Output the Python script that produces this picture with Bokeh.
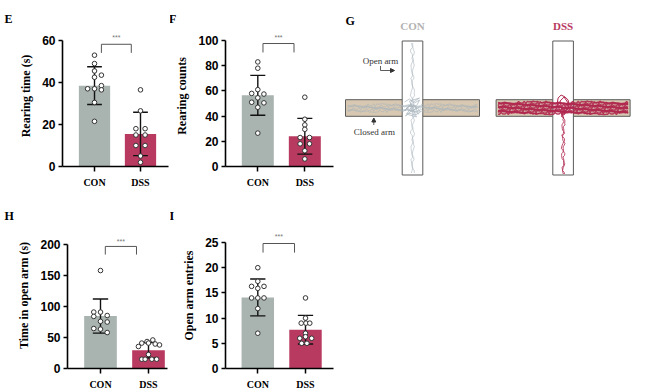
import numpy as np
from bokeh.plotting import figure
from bokeh.layouts import row, column
from bokeh.models import Range1d, FixedTicker, Title, Arrow, NormalHead
from bokeh.embed import file_html
from bokeh.resources import INLINE
from bokeh.core.properties import value

groups = ["CON", "DSS"]
group_x = [1, 2]
bar_colors = ["#a9b3b0", "#b83a61"]

# ---- Panel E: Rearing time (s)
e_means = [38.5, 15.5]
e_sds = [9.0, 10.3]
e_con = [53, 49, 45.5, 43.5, 42.5, 38.5, 37, 37, 36.5, 30.5, 21.5]
e_con_dx = [0, 0, 0, 0.15, 0, 0.15, -0.15, 0, 0.15, 0, 0]
e_dss = [36.5, 26.5, 18, 18, 15, 15, 10, 10, 5, 2]
e_dss_dx = [0, 0, -0.1, 0.1, -0.1, 0.1, -0.1, 0.1, 0, 0]
e_yticks = [0, 20, 40, 60]
e_bracket_x = [1.15, 1.80]
e_bracket_y = [54.1, 58.2, 61.6]

# ---- Panel F: Rearing counts
f_means = [56.5, 24.0]
f_sds = [15.8, 14.2]
f_con = [83, 78, 61, 58, 57.5, 54.5, 51, 50.5, 47, 26.5]
f_con_dx = [0, 0, 0, -0.13, 0.13, 0, -0.13, 0.13, 0, 0]
f_dss = [55, 37.5, 33, 29.5, 23, 23, 18, 18, 12.5, 6]
f_dss_dx = [0, 0, 0, 0, -0.1, 0.1, -0.1, 0.1, 0, 0]
f_yticks = [0, 20, 40, 60, 80, 100]
f_bracket_x = [1.11, 1.77]
f_bracket_y = [90.5, 97.6, 102.6]

# ---- Panel H: Time in open arm (s)
h_means = [84.5, 29.5]
h_sds = [27.5, 12.5]
h_con = [158, 91, 91, 85.5, 84, 76, 75, 64.5, 63.5, 58]
h_con_dx = [0, -0.14, 0, 0.14, -0.14, 0, 0.14, -0.14, 0, 0.14]
h_dss = [46, 43.5, 41, 41, 39.5, 38, 35.5, 22.5, 15, 15, 15, 15]
h_dss_dx = [0.09, -0.03, -0.14, 0, 0.14, 0.23, -0.21, 0, -0.14, -0.07, 0.07, 0.17]
h_yticks = [0, 50, 100, 150, 200]
h_bracket_x = [1.10, 1.75]
h_bracket_y = [183.8, 196.9, 205.0]

# ---- Panel I: Open arm entries
i_means = [14.1, 7.7]
i_sds = [3.65, 2.85]
i_con = [20, 17.3, 16.3, 16.3, 15.9, 14, 14, 14, 11.9, 7]
i_con_dx = [0, 0, -0.13, 0.13, 0, -0.13, 0, 0.13, 0, 0]
i_dss = [14, 10, 9, 9, 9, 7, 6.3, 6, 6, 5, 5]
i_dss_dx = [0, 0, -0.09, 0.01, 0.09, 0, 0, -0.12, 0.13, -0.08, 0.03]
i_yticks = [0, 5, 10, 15, 20, 25]
i_bracket_x = [1.11, 1.77]
i_bracket_y = [23.0, 24.8, 26.2]

# ---- Panel G: elevated plus maze, hand-traced track texture
maze_centers_x = [77.0, 227.6]
maze_center_y = 107.5
arm_half_len = 67.0
open_half_w = 10.3
closed_half_w = 8.3
track_wiggle = [0.0, 0.8, -0.5, 1.3, -1.0, 0.2, -0.9, 1.1, 0.4, -1.4, 0.9, -0.2,
                1.2, -0.8, 0.5, -1.2, 0.1, 1.0, -0.6, 0.7, -1.3, 0.3, 1.4, -0.4,
                -1.0, 0.6, 1.1, -0.7, 0.0, -1.1, 0.9, 0.4, -0.3, 1.2, -0.9, 0.2, -0.5]
con_band_bases = [-3.0, -1.8, -0.6, 0.6, 1.8, 3.0]
dss_band_bases = [-5.6, -4.6, -3.6, -2.6, -1.6, -0.6, 0.4, 1.4, 2.4, 3.4, 4.4, 5.4]
con_cluster_x = [-8, -3, 2, 7, 4, -2, -6, -1, 5, 8, 3, -4, -7, 0, 6, 2, -5, -8, 1, 7, -3, 4, -6, 0]
con_cluster_y = [-6, -9, -5, -8, -2, -4, 1, 3, 0, 4, 7, 5, 8, 2, 6, -3, -1, 3, -6, -10, -7, 9, 6, -2]
dss_loop_x = [0, 4, 6, 5, 2, -2, -5, -6, -4, 0, 3, 5, 1, -3, -1, 2, -2, 1]
dss_loop_y = [4, 2, -3, -8, -11, -13, -10, -4, 1, 5, 2, -5, -11, -7, 3, 6, 8, 10]

SERIF = "Liberation Serif"
SANS = "Liberation Sans"


def bar_panel(w, h, bl, br, bt, bb, xr, ytop, yticks, ylabel, means, sds,
              con, con_dx, dss, dss_dx, bx, by, letter, loff):
    p = figure(width=w, height=h, x_range=Range1d(*xr), y_range=Range1d(0, ytop),
               output_backend="svg", toolbar_location=None,
               min_border_left=bl, min_border_right=br,
               min_border_top=bt, min_border_bottom=bb)
    p.title = Title(text=letter, align="left", offset=loff, standoff=0,
                    vertical_align="bottom", text_font=SERIF, text_font_style="bold",
                    text_font_size="12px", text_color="black")
    p.outline_line_color = None
    p.xgrid.visible = False
    p.ygrid.visible = False
    p.vbar(x=group_x, top=means, bottom=0, width=0.68,
           fill_color=bar_colors, line_color=None)
    lo = [m - s for m, s in zip(means, sds)]
    hi = [m + s for m, s in zip(means, sds)]
    p.segment(x0=group_x, y0=lo, x1=group_x, y1=hi, line_color="#111111", line_width=1.4)
    cap = 0.16
    p.segment(x0=[g - cap for g in group_x] * 2, y0=lo + hi,
              x1=[g + cap for g in group_x] * 2, y1=lo + hi,
              line_color="#111111", line_width=1.4)
    p.scatter(x=[1 + d for d in con_dx], y=con, size=4.6, marker="circle",
              fill_color="white", line_color="#333333", line_width=1.0)
    p.scatter(x=[2 + d for d in dss_dx], y=dss, size=4.6, marker="circle",
              fill_color="white", line_color="#333333", line_width=1.0)
    p.line(x=[bx[0], bx[0], bx[1], bx[1]], y=[by[0], by[1], by[1], by[0]],
           line_color="#555555", line_width=1)
    p.text(x=[(bx[0] + bx[1]) / 2], y=[by[2]], text=["***"],
           text_font=value(SANS), text_font_size="7px", text_color="#777777",
           text_align="center", text_baseline="middle")

    p.xaxis.ticker = FixedTicker(ticks=group_x)
    p.xaxis.major_label_overrides = {1: groups[0], 2: groups[1]}
    p.yaxis.ticker = FixedTicker(ticks=yticks)
    p.yaxis.bounds = (0, yticks[-1])
    for ax in (p.xaxis, p.yaxis):
        ax.axis_line_width = 1.6
        ax.axis_line_color = "black"
        ax.major_tick_line_width = 1.5
        ax.major_tick_line_color = "black"
        ax.major_tick_in = 0
        ax.minor_tick_line_color = None
    p.xaxis.major_tick_out = 5
    p.xaxis.major_label_standoff = 5
    p.xaxis.major_label_text_font = SERIF
    p.xaxis.major_label_text_font_style = "bold"
    p.xaxis.major_label_text_font_size = "10px"
    p.xaxis.major_label_text_color = "black"
    p.yaxis.major_tick_out = 4
    p.yaxis.major_label_standoff = 3
    p.yaxis.major_label_text_font = SANS
    p.yaxis.major_label_text_font_style = "bold"
    p.yaxis.major_label_text_font_size = "12px"
    p.yaxis.major_label_text_color = "black"
    p.yaxis.axis_label = ylabel
    p.yaxis.axis_label_text_font = SERIF
    p.yaxis.axis_label_text_font_style = "bold"
    p.yaxis.axis_label_text_font_size = "12px"
    p.yaxis.axis_label_text_color = "black"
    p.yaxis.axis_label_standoff = 6
    return p


pE = bar_panel(170, 196, 62, 2, 25, 30, (0.304, 2.609), 67.14, e_yticks,
               "Rearing time (s)", e_means, e_sds, e_con, e_con_dx, e_dss, e_dss_dx,
               e_bracket_x, e_bracket_y, "E", -58)
pF = bar_panel(165, 196, 55, 2, 25, 30, (0.313, 2.61), 111.9, f_yticks,
               "Rearing counts", f_means, f_sds, f_con, f_con_dx, f_dss, f_dss_dx,
               f_bracket_x, f_bracket_y, "F", -56.5)
pH = bar_panel(170, 196, 67, 3, 26, 24, (0.3125, 2.396), 235.5, h_yticks,
               "Time in open arm (s)", h_means, h_sds, h_con, h_con_dx, h_dss, h_dss_dx,
               h_bracket_x, h_bracket_y, "H", -63)
pI = bar_panel(165, 196, 55, 2, 26, 24, (0.323, 2.587), 28.97, i_yticks,
               "Open arm entries", i_means, i_sds, i_con, i_con_dx, i_dss, i_dss_dx,
               i_bracket_x, i_bracket_y, "I", -56)

# ---- Panel G
pG = figure(width=315, height=392, x_range=Range1d(0, 315), y_range=Range1d(392, 0),
            x_axis_type=None, y_axis_type=None, output_backend="svg",
            toolbar_location=None, min_border=0)
pG.outline_line_color = None
pG.xgrid.visible = False
pG.ygrid.visible = False

trace_colors = ["#a7b3bb", "#b0284f"]
title_colors = ["#b3b3b3", "#b83a61"]
cy = maze_center_y
nw = len(track_wiggle)
for k, cx in enumerate(maze_centers_x):
    pG.quad(left=[cx - arm_half_len], right=[cx + arm_half_len],
            top=[cy - closed_half_w], bottom=[cy + closed_half_w],
            fill_color="#d8c8b2", line_color="#5a5a5a", line_width=1)
    pG.quad(left=[cx - open_half_w], right=[cx + open_half_w],
            top=[cy - arm_half_len], bottom=[cy + arm_half_len],
            fill_color="white", line_color="#5a5a5a", line_width=1)
    pG.text(x=[cx], y=[25], text=[groups[k]], text_font=value(SERIF),
            text_font_style="bold", text_font_size="11px", text_color=title_colors[k],
            text_align="center", text_baseline="middle")

    xs_band = np.linspace(cx - arm_half_len + 2, cx + arm_half_len - 2, 90)
    if k == 0:
        bases, amp, lw, al = con_band_bases, 1.1, 0.7, 0.8
    else:
        bases, amp, lw, al = dss_band_bases, 0.9, 1.4, 0.9
    for j, b in enumerate(bases):
        ys = [cy + b + amp * track_wiggle[(7 * i + 11 * j) % nw] for i in range(len(xs_band))]
        pG.line(x=xs_band, y=ys, line_color=trace_colors[k], line_width=lw, line_alpha=al)

    if k == 0:
        ys_v = np.linspace(cy - arm_half_len + 2, cy + arm_half_len - 2, 60)
        for j, b in enumerate([-0.8, 0.8]):
            xs = [cx + b + 0.9 * track_wiggle[(5 * i + 13 * j) % nw] for i in range(len(ys_v))]
            pG.line(x=xs, y=ys_v, line_color=trace_colors[k], line_width=0.7, line_alpha=0.85)
        pG.line(x=[cx + v for v in con_cluster_x], y=[cy + v for v in con_cluster_y],
                line_color=trace_colors[k], line_width=0.7)
    else:
        ys_v = np.linspace(cy, cy + arm_half_len - 1, 40)
        for j, b in enumerate([-0.5, 0.7]):
            xs = [cx + b + 0.9 * track_wiggle[(5 * i + 9 * j) % nw] for i in range(len(ys_v))]
            pG.line(x=xs, y=ys_v, line_color=trace_colors[k], line_width=0.9, line_alpha=0.9)
        pG.line(x=[cx + v for v in dss_loop_x], y=[cy + v for v in dss_loop_y],
                line_color=trace_colors[k], line_width=1.0)

pG.text(x=[10], y=[20.5], text=["G"], text_font=value(SERIF), text_font_style="bold",
        text_font_size="12px", text_color="black", text_baseline="alphabetic")
pG.text(x=[45], y=[60], text=["Open arm"], text_font=value(SERIF), text_font_size="9px",
        text_color="#333333", text_align="center", text_baseline="middle")
pG.line(x=[45, 45, 56], y=[65.5, 70, 70], line_color="#333333", line_width=0.8)
pG.add_layout(Arrow(end=NormalHead(size=4, fill_color="#333333", line_color="#333333"),
                    x_start=55, y_start=70, x_end=59, y_end=70,
                    line_color="#333333", line_width=0.8))
pG.text(x=[38.8], y=[131.5], text=["Closed arm"], text_font=value(SERIF),
        text_font_size="9px", text_color="#333333", text_align="center",
        text_baseline="middle")
pG.add_layout(Arrow(end=NormalHead(size=4, fill_color="#333333", line_color="#333333"),
                    x_start=38.3, y_start=124.5, x_end=38.3, y_end=117.5,
                    line_color="#333333", line_width=0.8))

layout = row(column(row(pE, pF), row(pH, pI)), pG)
open("out.html", "w").write(file_html(layout, INLINE))
